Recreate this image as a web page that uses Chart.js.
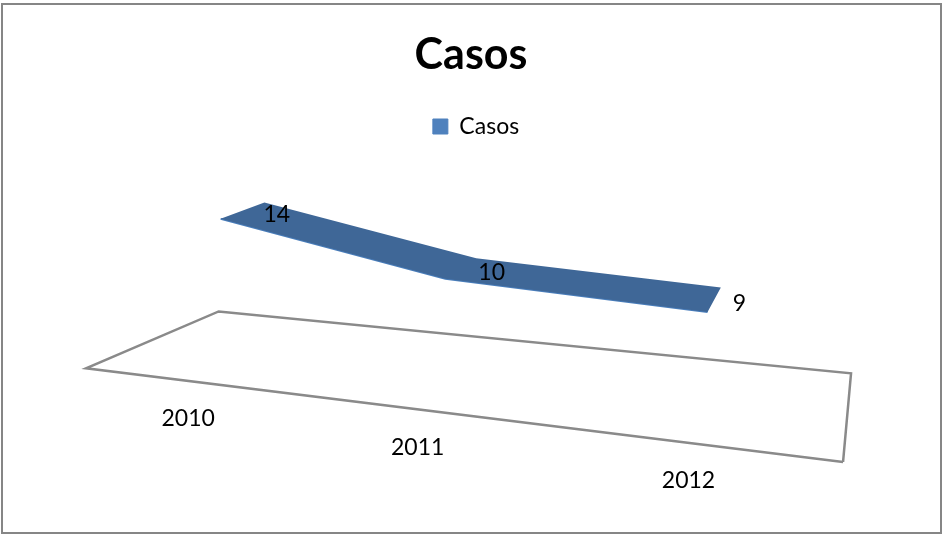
<!DOCTYPE html>
<html>
<head>
<meta charset="utf-8">
<title>Casos</title>
<script src="https://cdn.jsdelivr.net/npm/chart.js@4"></script>
<style>
  html, body { margin: 0; padding: 0; background: #fff; }
  #frame { position: absolute; left: 1px; top: 3px; width: 937px; height: 527px; border: 2px solid #868686; }
  #casos-chart { position: absolute; left: 0; top: 0; display: block; }
</style>
</head>
<body>
<div id="frame"></div>
<canvas id="casos-chart" width="942" height="534"></canvas>
<script>
  const categories = ["2010", "2011", "2012"];
  const casos = [14, 10, 9];

  const TEXT_FONT = "Lato, 'Open Sans', sans-serif";
  const LEGEND_PADDING = 34.4;

  // Perspective of the 3D plot: depth positions of the ribbon edges
  const FRONT = 0.25;
  const BACK = 0.6;

  // Projects (u along categories, v depth, z value) onto the page
  function project(u, v, z) {
    const w = 1 - 0.2203 * u + 0.19994 * v - 0.00182 * z;
    return {
      x: (85 + 573.1 * u + 176.6 * v - 0.528 * z) / w,
      y: (369 - 8 * u + 5.38 * v - 10.7 * z - 0.8 * v * z) / w,
    };
  }

  const slot = (i) => (i + 0.5) / categories.length;

  const frontEdge = casos.map((c, i) => project(slot(i), FRONT, c));
  const backEdge = casos.map((c, i) => project(slot(i), BACK, c));

  // Starts on a blunt corner so the sharp left tip gets a proper join
  const floorOutline = [[1, 0], [0, 0], [0, 1], [1, 1], [1, 0]].map((p) =>
    project(p[0], p[1], 0)
  );

  const valueAnchors = casos.map((c, i) => {
    const u = slot(i);
    const p = project(u, BACK, c);
    return { x: p.x + 11 + 9 * u, y: p.y + 11 + 6 * u, text: String(c) };
  });
  const tickAnchors = categories.map((c, i) => {
    const p = project(slot(i), 0, 0);
    return { x: p.x, y: p.y + 38, text: c };
  });

  // Closes a dataset's points into a filled polygon
  const polygonFill = {
    id: "polygonFill",
    beforeDatasetDraw(chart, args) {
      const color = chart.data.datasets[args.index].polygonColor;
      if (!color) return;
      const ctx = chart.ctx;
      ctx.save();
      ctx.beginPath();
      args.meta.data.forEach((pt, i) => {
        if (i === 0) ctx.moveTo(pt.x, pt.y);
        else ctx.lineTo(pt.x, pt.y);
      });
      ctx.closePath();
      ctx.fillStyle = color;
      ctx.fill();
      ctx.restore();
    },
  };

  // Category and value labels, placed through the chart scales
  const plotLabels = {
    id: "plotLabels",
    afterDatasetsDraw(chart) {
      const ctx = chart.ctx;
      const { x, y } = chart.scales;
      ctx.save();
      ctx.font = "23px " + TEXT_FONT;
      ctx.fillStyle = "#000";
      ctx.textAlign = "center";
      ctx.textBaseline = "middle";
      valueAnchors.concat(tickAnchors).forEach((a) => {
        ctx.fillText(a.text, x.getPixelForValue(a.x), y.getPixelForValue(a.y));
      });
      ctx.restore();
    },
  };

  // Legend sits a little right of the chart's centre line
  const legendNudge = {
    id: "legendNudge",
    afterLayout(chart) {
      chart.legend.left += 10;
    },
  };

  const chart = new Chart(document.getElementById("casos-chart"), {
    type: "scatter",
    plugins: [polygonFill, plotLabels, legendNudge],
    data: {
      datasets: [
        {
          label: "Casos",
          data: frontEdge.concat(backEdge.slice().reverse()),
          polygonColor: "#3f6797",
          backgroundColor: "#4f81bd",
          borderColor: "#4f81bd",
          showLine: false,
          pointRadius: 0,
        },
        {
          label: "frente",
          data: frontEdge,
          showLine: true,
          borderColor: "#4a7ebb",
          borderWidth: 2,
          pointRadius: 0,
          tension: 0,
        },
        {
          label: "suelo",
          data: floorOutline,
          showLine: true,
          borderColor: "#8a8a8a",
          borderWidth: 2.5,
          pointRadius: 0,
          tension: 0,
        },
      ],
    },
    options: {
      responsive: false,
      animation: false,
      layout: { padding: 0 },
      plugins: {
        tooltip: { enabled: false },
        title: {
          display: true,
          text: "Casos",
          color: "#000",
          font: { family: TEXT_FONT, size: 43, weight: "bold", lineHeight: 1.2 },
          padding: { top: 29, bottom: 0 },
        },
        legend: {
          position: "top",
          labels: {
            filter: (item) => item.text === "Casos",
            color: "#000",
            font: { family: TEXT_FONT, size: 23, lineHeight: 1 },
            boxWidth: 15,
            boxHeight: 15,
            padding: LEGEND_PADDING,
          },
        },
      },
      scales: {
        x: { type: "linear", display: false, min: 0, max: 942 },
        y: { type: "linear", display: false, reverse: true, min: 0, max: 534 },
      },
    },
  });

  // Scale ranges follow the plot area left under the title and legend, so
  // that scale values and page pixels coincide
  const area = chart.chartArea;
  chart.options.scales.x.min = area.left;
  chart.options.scales.x.max = area.right;
  chart.options.scales.y.min = area.top;
  chart.options.scales.y.max = area.bottom;
  chart.update();
</script>
</body>
</html>
